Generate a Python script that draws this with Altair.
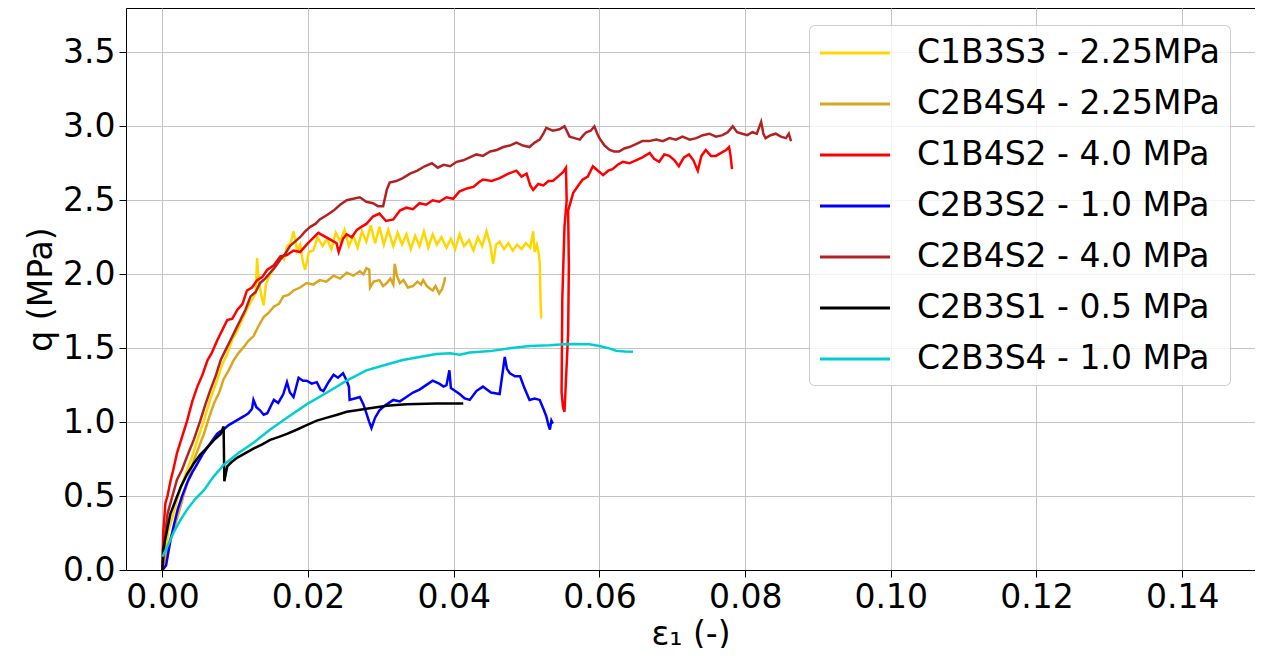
import altair as alt
import pandas as pd

SERIES = ["C1B3S3 - 2.25MPa", "C2B4S4 - 2.25MPa", "C1B4S2 - 4.0 MPa", "C2B3S2 - 1.0 MPa",
          "C2B4S2 - 4.0 MPa", "C2B3S1 - 0.5 MPa", "C2B3S4 - 1.0 MPa"]
COLORS = ["#FFD700", "#DAA520", "#FF0000", "#0000FF", "#B22222", "#000000", "#00CED1"]

X_TICKS = [0.0, 0.02, 0.04, 0.06, 0.08, 0.10, 0.12, 0.14]
Y_TICKS = [0.0, 0.5, 1.0, 1.5, 2.0, 2.5, 3.0, 3.5]

C1B3S3 = [(0.0, 0.0), (0.0004, 0.12), (0.0008, 0.26), (0.0014, 0.36), (0.002, 0.47), (0.0028, 0.6),
          (0.0039, 0.74), (0.0048, 0.88), (0.0057, 1.01), (0.0066, 1.16), (0.0075, 1.28), (0.0082, 1.39),
          (0.0089, 1.46), (0.0096, 1.56), (0.0103, 1.62), (0.011, 1.70), (0.0116, 1.76), (0.0122, 1.82),
          (0.0128, 1.87), (0.0130, 2.11), (0.0132, 1.96), (0.0136, 1.85), (0.0139, 1.79), (0.0142, 1.93),
          (0.0146, 1.98), (0.0152, 2.03), (0.0157, 2.07), (0.0162, 2.12), (0.0167, 2.10), (0.0171, 2.19),
          (0.0176, 2.21), (0.018, 2.29), (0.0185, 2.16), (0.0189, 2.2), (0.0193, 2.08), (0.0196, 2.03),
          (0.0201, 2.15), (0.0207, 2.16), (0.0213, 2.25), (0.022, 2.19), (0.0226, 2.24), (0.0232, 2.17),
          (0.0238, 2.28), (0.0244, 2.22), (0.025, 2.30), (0.0256, 2.19), (0.0262, 2.26), (0.0268, 2.18),
          (0.0274, 2.29), (0.028, 2.22), (0.0286, 2.33), (0.0292, 2.21), (0.0298, 2.32), (0.0304, 2.20),
          (0.031, 2.30), (0.0317, 2.19), (0.0323, 2.28), (0.0329, 2.2), (0.0335, 2.27), (0.0341, 2.17),
          (0.0347, 2.26), (0.0353, 2.19), (0.0359, 2.29), (0.0365, 2.18), (0.0371, 2.27), (0.0377, 2.2),
          (0.0383, 2.25), (0.039, 2.18), (0.0396, 2.24), (0.0402, 2.17), (0.0408, 2.27), (0.0414, 2.19),
          (0.0421, 2.23), (0.0427, 2.16), (0.0433, 2.25), (0.0439, 2.19), (0.0445, 2.29), (0.045, 2.2),
          (0.0454, 2.07), (0.0458, 2.2), (0.0463, 2.22), (0.0469, 2.17), (0.0475, 2.21), (0.0481, 2.16),
          (0.0487, 2.2), (0.0493, 2.17), (0.0499, 2.21), (0.0505, 2.18), (0.0509, 2.29), (0.0511, 2.15),
          (0.0514, 2.2), (0.0516, 2.16), (0.0518, 2.08), (0.0519, 1.85), (0.052, 1.70)]

C2B4S4 = [(0.0, 0.0), (0.0005, 0.1), (0.001, 0.2), (0.0016, 0.28), (0.0023, 0.4), (0.003, 0.52),
          (0.0036, 0.62), (0.0043, 0.74), (0.005, 0.83), (0.0057, 0.92), (0.0064, 1.03), (0.0071, 1.13),
          (0.0078, 1.2), (0.0084, 1.29), (0.0091, 1.35), (0.0098, 1.42), (0.0105, 1.47), (0.0112, 1.51),
          (0.0118, 1.55), (0.0125, 1.58), (0.0132, 1.65), (0.0139, 1.71), (0.0146, 1.74), (0.0153, 1.78),
          (0.016, 1.80), (0.0166, 1.85), (0.0173, 1.86), (0.018, 1.89), (0.0189, 1.91), (0.0198, 1.94),
          (0.0207, 1.93), (0.0216, 1.96), (0.0225, 1.95), (0.0235, 1.99), (0.0244, 1.97), (0.0253, 2.01),
          (0.0262, 1.99), (0.0271, 2.02), (0.0276, 2.0), (0.028, 2.04), (0.0284, 2.03), (0.0285, 1.91),
          (0.029, 1.95), (0.0298, 1.96), (0.0303, 1.92), (0.0308, 1.94), (0.0313, 1.97), (0.0317, 1.93),
          (0.0319, 2.07), (0.0322, 1.99), (0.0326, 1.94), (0.0331, 1.96), (0.0337, 1.91), (0.0344, 1.92),
          (0.035, 1.95), (0.0355, 1.93), (0.0358, 1.96), (0.0363, 1.92), (0.0368, 1.9), (0.0371, 1.89),
          (0.0375, 1.92), (0.038, 1.87), (0.0384, 1.9), (0.0387, 1.95), (0.0388, 1.98)]

C1B4S2 = [(0.0, 0.0), (0.0001, 0.25), (0.0002, 0.31), (0.0004, 0.45), (0.0007, 0.5), (0.0011, 0.6),
          (0.0015, 0.68), (0.002, 0.79), (0.0027, 0.9), (0.0034, 1.01), (0.0041, 1.14), (0.0048, 1.24),
          (0.0055, 1.32), (0.0062, 1.42), (0.0068, 1.47), (0.0075, 1.55), (0.0082, 1.62), (0.0089, 1.69),
          (0.0096, 1.70), (0.0103, 1.76), (0.011, 1.80), (0.0116, 1.89), (0.0123, 1.91), (0.013, 1.96),
          (0.0137, 1.98), (0.0144, 2.03), (0.0153, 2.06), (0.0162, 2.12), (0.0171, 2.13), (0.018, 2.16),
          (0.0189, 2.15), (0.0198, 2.2), (0.0206, 2.24), (0.0214, 2.28), (0.0239, 2.21), (0.0242, 2.15),
          (0.0244, 2.18), (0.0248, 2.24), (0.0253, 2.27), (0.026, 2.25), (0.0267, 2.30), (0.0273, 2.32),
          (0.028, 2.34), (0.0289, 2.39), (0.0298, 2.41), (0.0307, 2.36), (0.0317, 2.37), (0.0326, 2.43),
          (0.0335, 2.45), (0.0344, 2.44), (0.0353, 2.48), (0.0362, 2.47), (0.0371, 2.5), (0.038, 2.49),
          (0.039, 2.52), (0.0399, 2.51), (0.0408, 2.56), (0.0418, 2.58), (0.0427, 2.59), (0.0434, 2.62),
          (0.044, 2.64), (0.0452, 2.63), (0.0463, 2.65), (0.0475, 2.68), (0.0486, 2.7), (0.0493, 2.66),
          (0.05, 2.68), (0.0505, 2.6), (0.0509, 2.57), (0.0516, 2.61), (0.0523, 2.6), (0.053, 2.63),
          (0.0536, 2.63), (0.0543, 2.66), (0.055, 2.69), (0.0554, 2.72), (0.0555, 2.5), (0.0552, 2.32),
          (0.0549, 1.83), (0.0548, 1.2), (0.0550, 1.1), (0.0552, 1.07), (0.0557, 1.6), (0.0558, 2.05),
          (0.0557, 2.43), (0.0564, 2.55), (0.0571, 2.6), (0.0577, 2.64), (0.0584, 2.66), (0.0591, 2.73),
          (0.0598, 2.7), (0.0605, 2.67), (0.0612, 2.7), (0.0618, 2.71), (0.0625, 2.74), (0.0632, 2.76),
          (0.0641, 2.75), (0.065, 2.77), (0.0659, 2.79), (0.0669, 2.82), (0.0675, 2.78), (0.0682, 2.76),
          (0.0689, 2.81), (0.0696, 2.8), (0.0703, 2.77), (0.0709, 2.73), (0.0716, 2.79), (0.0723, 2.81),
          (0.0729, 2.77), (0.0735, 2.7), (0.074, 2.8), (0.0746, 2.84), (0.0753, 2.8), (0.076, 2.8),
          (0.0767, 2.82), (0.0774, 2.84), (0.0778, 2.86), (0.078, 2.8), (0.0782, 2.71)]

C2B3S2 = [(0.0, 0.0), (0.0005, 0.03), (0.0011, 0.2), (0.0016, 0.31), (0.0021, 0.41), (0.0027, 0.5),
          (0.0034, 0.59), (0.0041, 0.66), (0.0048, 0.72), (0.0055, 0.78), (0.0062, 0.83), (0.0069, 0.88),
          (0.0075, 0.92), (0.008, 0.94), (0.0084, 0.95), (0.0091, 0.98), (0.0098, 1.0), (0.0105, 1.02),
          (0.0112, 1.04), (0.0118, 1.06), (0.0123, 1.09), (0.0125, 1.15), (0.0129, 1.1), (0.0134, 1.08),
          (0.0139, 1.05), (0.0144, 1.06), (0.0148, 1.10), (0.0153, 1.15), (0.0159, 1.13), (0.0166, 1.19),
          (0.0171, 1.27), (0.0175, 1.2), (0.018, 1.17), (0.0187, 1.3), (0.0193, 1.28), (0.0198, 1.28),
          (0.0205, 1.26), (0.0212, 1.27), (0.0217, 1.22), (0.0221, 1.21), (0.0228, 1.27), (0.0235, 1.32),
          (0.0241, 1.30), (0.0248, 1.33), (0.0253, 1.28), (0.0256, 1.24), (0.0257, 1.15), (0.0264, 1.16),
          (0.0271, 1.17), (0.0276, 1.12), (0.028, 1.06), (0.0284, 1.0), (0.0287, 0.96), (0.0292, 1.03),
          (0.0298, 1.08), (0.0305, 1.11), (0.0311, 1.13), (0.0317, 1.15), (0.0326, 1.14), (0.0335, 1.17),
          (0.0344, 1.2), (0.0353, 1.22), (0.0362, 1.25), (0.0371, 1.28), (0.038, 1.26), (0.0386, 1.24),
          (0.039, 1.25), (0.0394, 1.35), (0.0396, 1.23), (0.0399, 1.22), (0.0408, 1.19), (0.0415, 1.16),
          (0.0422, 1.15), (0.0431, 1.21), (0.044, 1.24), (0.0451, 1.2), (0.0463, 1.19), (0.047, 1.44),
          (0.0473, 1.36), (0.0477, 1.33), (0.0484, 1.31), (0.0491, 1.31), (0.0497, 1.23), (0.0504, 1.15),
          (0.0511, 1.16), (0.0518, 1.15), (0.0523, 1.09), (0.0527, 1.04), (0.053, 0.98), (0.0532, 0.95),
          (0.0534, 1.01), (0.0536, 0.99)]

C2B4S2 = [(0.0, 0.0), (0.0001, 0.05), (0.0004, 0.25), (0.0007, 0.38), (0.0012, 0.47), (0.002, 0.61),
          (0.0027, 0.68), (0.0034, 0.77), (0.0043, 0.88), (0.0052, 1.01), (0.0059, 1.12), (0.0066, 1.22),
          (0.0073, 1.31), (0.008, 1.42), (0.0087, 1.49), (0.0093, 1.55), (0.01, 1.62), (0.0107, 1.69),
          (0.0114, 1.76), (0.0121, 1.85), (0.0128, 1.88), (0.0134, 1.94), (0.0141, 1.97), (0.0148, 2.01),
          (0.0155, 2.05), (0.0162, 2.1), (0.0169, 2.14), (0.0175, 2.19), (0.0182, 2.22), (0.0189, 2.25),
          (0.0196, 2.29), (0.0203, 2.32), (0.021, 2.34), (0.0216, 2.37), (0.0226, 2.40), (0.0235, 2.43),
          (0.0244, 2.47), (0.0253, 2.5), (0.0262, 2.51), (0.0271, 2.52), (0.028, 2.49), (0.0289, 2.48),
          (0.0296, 2.46), (0.0303, 2.46), (0.0308, 2.57), (0.0312, 2.62), (0.0321, 2.63), (0.033, 2.65),
          (0.034, 2.68), (0.035, 2.7), (0.036, 2.73), (0.037, 2.75), (0.0378, 2.72), (0.0386, 2.74),
          (0.0395, 2.73), (0.0404, 2.76), (0.0413, 2.77), (0.0422, 2.79), (0.0431, 2.81), (0.044, 2.8),
          (0.045, 2.83), (0.0459, 2.84), (0.0468, 2.86), (0.0477, 2.87), (0.0486, 2.89), (0.0495, 2.87),
          (0.0504, 2.86), (0.0511, 2.89), (0.0518, 2.91), (0.0523, 2.95), (0.0527, 2.99), (0.0536, 2.97),
          (0.0545, 2.98), (0.0552, 3.0), (0.0559, 2.93), (0.0566, 2.92), (0.0573, 2.91), (0.0578, 2.94),
          (0.0582, 2.96), (0.0588, 2.97), (0.0593, 3.0), (0.0597, 2.95), (0.06, 2.92), (0.0607, 2.87),
          (0.0614, 2.84), (0.062, 2.83), (0.0627, 2.83), (0.0634, 2.85), (0.0641, 2.86), (0.065, 2.88),
          (0.0659, 2.9), (0.0668, 2.9), (0.0678, 2.91), (0.0687, 2.9), (0.0696, 2.92), (0.0705, 2.91),
          (0.0714, 2.93), (0.0724, 2.91), (0.0733, 2.92), (0.0742, 2.94), (0.0751, 2.95), (0.076, 2.93),
          (0.0769, 2.94), (0.0776, 2.96), (0.0783, 3.0), (0.0789, 2.96), (0.0796, 2.95), (0.0803, 2.94),
          (0.081, 2.96), (0.0816, 2.95), (0.0822, 3.03), (0.0825, 2.95), (0.0828, 2.92), (0.0835, 2.94),
          (0.0842, 2.95), (0.0849, 2.93), (0.0856, 2.92), (0.086, 2.95), (0.0863, 2.9)]

C2B3S1 = [(0.0, 0.0), (0.0001, 0.14), (0.0006, 0.26), (0.0011, 0.38), (0.0018, 0.47), (0.0025, 0.56),
          (0.0034, 0.65), (0.0043, 0.72), (0.0052, 0.78), (0.0062, 0.83), (0.0071, 0.88), (0.008, 0.92),
          (0.0084, 0.97), (0.0085, 0.60), (0.0087, 0.65), (0.0089, 0.70), (0.0095, 0.73), (0.0103, 0.76),
          (0.0114, 0.79), (0.0125, 0.82), (0.0137, 0.85), (0.0148, 0.88), (0.016, 0.90), (0.0171, 0.92),
          (0.0185, 0.95), (0.0198, 0.98), (0.0212, 1.01), (0.0226, 1.03), (0.024, 1.05), (0.0253, 1.07),
          (0.0267, 1.08), (0.028, 1.09), (0.0294, 1.10), (0.0308, 1.11), (0.0321, 1.115), (0.0335, 1.12),
          (0.0349, 1.122), (0.0362, 1.124), (0.0376, 1.125), (0.039, 1.126), (0.0403, 1.125), (0.0413, 1.126)]

C2B3S4 = [(0.0, 0.09), (0.0007, 0.16), (0.0016, 0.26), (0.0025, 0.34), (0.0034, 0.41), (0.0045, 0.48),
          (0.0057, 0.54), (0.007, 0.63), (0.0084, 0.71), (0.0104, 0.79), (0.0125, 0.86), (0.0148, 0.95),
          (0.0171, 1.03), (0.0198, 1.12), (0.0226, 1.2), (0.0253, 1.28), (0.028, 1.35), (0.0308, 1.39),
          (0.033, 1.42), (0.0353, 1.44), (0.0376, 1.46), (0.0395, 1.465), (0.0408, 1.455), (0.0422, 1.47),
          (0.045, 1.48), (0.0477, 1.5), (0.0504, 1.515), (0.0532, 1.52), (0.0555, 1.528), (0.0586, 1.526),
          (0.06, 1.515), (0.0612, 1.5), (0.0623, 1.483), (0.0635, 1.478), (0.0646, 1.476)]

CURVES = [C1B3S3, C2B4S4, C1B4S2, C2B3S2, C2B4S2, C2B3S1, C2B3S4]

rows = []
for k, (name, pts) in enumerate(zip(SERIES, CURVES)):
    for i, (xv, qv) in enumerate(pts):
        rows.append({"series": name, "z": k, "idx": i, "eps": xv, "q": qv})
df = pd.DataFrame(rows)

FONT = "DejaVu Sans"
FS = 33

chart = alt.Chart(df).mark_line(strokeWidth=2.5, clip=True).encode(
    x=alt.X("eps:Q", scale=alt.Scale(domain=[-0.005, 0.15], nice=False, zero=False),
            axis=alt.Axis(values=X_TICKS, format=".2f", title="ε₁ (-)", titlePadding=4)),
    y=alt.Y("q:Q", scale=alt.Scale(domain=[0, 3.8], nice=False),
            axis=alt.Axis(values=Y_TICKS, format=".1f", title="q (MPa)", titlePadding=4)),
    color=alt.Color("series:N", sort=SERIES,
                    scale=alt.Scale(domain=SERIES, range=COLORS),
                    legend=alt.Legend(title=None, orient="none", legendX=683, legendY=17,
                                      symbolType="M-2,0H2", symbolSize=1225, symbolStrokeWidth=3,
                                      labelFontSize=FS, labelFont=FONT, labelColor="black",
                                      labelLimit=0, rowPadding=15, padding=9, labelOffset=43,
                                      symbolOffset=18,
                                      strokeColor="#cccccc", fillColor="rgba(255,255,255,0.8)",
                                      cornerRadius=5)),
    detail="series:N",
    order="idx:Q",
).properties(
    width=1129, height=562,
    autosize=alt.AutoSizeParams(type="none"),
    padding={"left": 118, "top": 0, "right": 0, "bottom": 78},
).configure_axis(
    labelFont=FONT, titleFont=FONT, labelFontSize=FS, titleFontSize=FS,
    titleFontWeight="normal", labelColor="black", titleColor="black",
    tickColor="black", tickSize=7, tickWidth=1, domainColor="black", domainWidth=1,
    gridColor="#c4c4c4", gridWidth=1, labelPadding=4,
).configure_view(stroke="black", strokeWidth=1)

chart.save("out.html", embed_options={"renderer": "svg", "actions": False})
